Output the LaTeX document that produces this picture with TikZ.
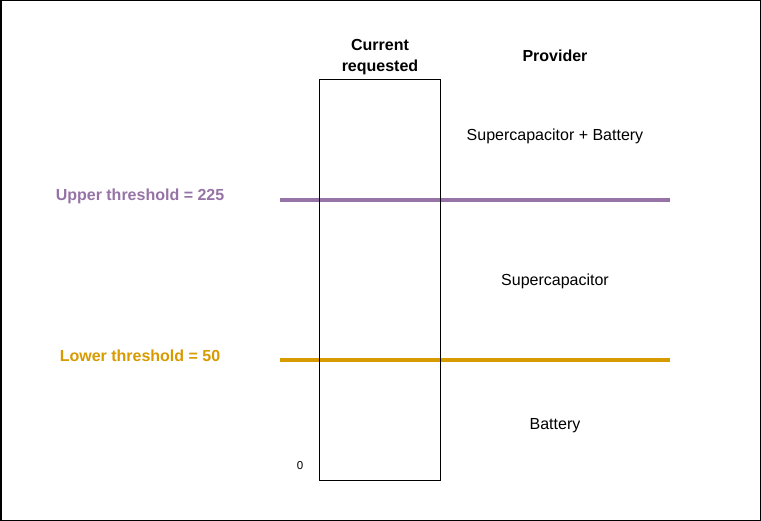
\documentclass[tikz,border=0pt]{standalone}
\usepackage{fontspec}
\setmainfont{Liberation Sans}
\definecolor{upperc}{HTML}{9673A6}
\definecolor{lowerc}{HTML}{D79B00}
\begin{document}
\begin{tikzpicture}[x=1pt,y=-1pt,
  lbl/.style={font=\fontsize{16}{21}\selectfont, inner sep=0pt, align=center},
  blbl/.style={lbl, font=\fontsize{16}{21}\selectfont\bfseries},
  thr/.style={line width=4pt}]
\useasboundingbox (0,0) rectangle (761,521);
\draw[line width=1.5pt] (0.75,0.75) rectangle (760.25,520.25);
\node[minimum width=120pt, minimum height=400pt, inner sep=0pt] (box) at (380,280) {};
\coordinate (uL) at (280,200);
\coordinate (uR) at (670,200);
\coordinate (lL) at (280,360);
\coordinate (lR) at (670,360);
\draw[thr, upperc] (uL) -- (uR);
\draw[thr, lowerc] (lL) -- (lR);
\draw[line width=0.9pt] (box.south west) rectangle (box.north east);
\node[blbl] (cur) at (380,57) {Current\\requested};
\node[blbl] (prov) at (555,56) {Provider};
\node[lbl] (sb) at (555,136) {Supercapacitor + Battery};
\node[lbl] (sc) at (555,281) {Supercapacitor};
\node[lbl] (bat) at (555,426) {Battery};
\node[blbl, text=upperc] (up) at (140,196) {Upper threshold = 225};
\node[blbl, text=lowerc] (lo) at (140,356) {Lower threshold = 50};
\node[lbl, font=\fontsize{11.5}{13}\selectfont] (zero) at (300,466) {0};
\end{tikzpicture}
\end{document}
